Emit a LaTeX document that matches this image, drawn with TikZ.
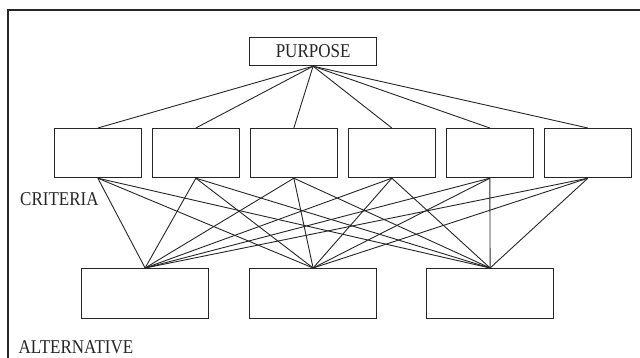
\documentclass[tikz,border=0pt]{standalone}
\usepackage{fontspec}
\usepackage{graphicx}
\setmainfont{Liberation Serif}
\newcommand{\tallt}[1]{\scalebox{1}[1.15]{#1}}
\begin{document}
\begin{tikzpicture}[x=1pt,y=-1pt,
  box/.style={draw=black!85,line width=1.2pt,rectangle,inner sep=0pt,anchor=north west},
  conn/.style={draw=black!85,line width=0.9pt},
  lbl/.style={inner sep=0pt,anchor=base west,font=\fontsize{17}{20}\selectfont,text=black!85},
  frame/.style={draw=black!85,line width=1.2pt}]
\useasboundingbox (0,0) rectangle (640,358);
\draw[frame] (8,360) -- (8,10) -- (642,10);
% purpose
\node[box,minimum width=127pt,minimum height=28pt,font=\fontsize{17}{20}\selectfont,text=black!85] (p) at (249,37) {\tallt{PURPOSE}};
% criteria
\foreach \i/\x in {1/54,2/152,3/250,4/348,5/446,6/544}
  \node[box,minimum width=86.5pt,minimum height=49pt] (c\i) at (\x,128) {};
% alternatives
\foreach \j/\x in {1/81,2/249,3/426}
  \node[box,minimum width=127pt,minimum height=50pt] (a\j) at (\x,268) {};
% connectors
\foreach \i in {1,...,6} \draw[conn] (p.south) -- (c\i.north);
\foreach \i in {1,...,6}
  \foreach \j in {1,2,3}
    \draw[conn] (c\i.south) -- (a\j.north);
% labels
\node[lbl] (crit) at (20,206) {\tallt{CRITERIA}};
\node[lbl] (alt) at (18.5,353) {\tallt{ALTERNATIVE}};
\end{tikzpicture}
\end{document}
